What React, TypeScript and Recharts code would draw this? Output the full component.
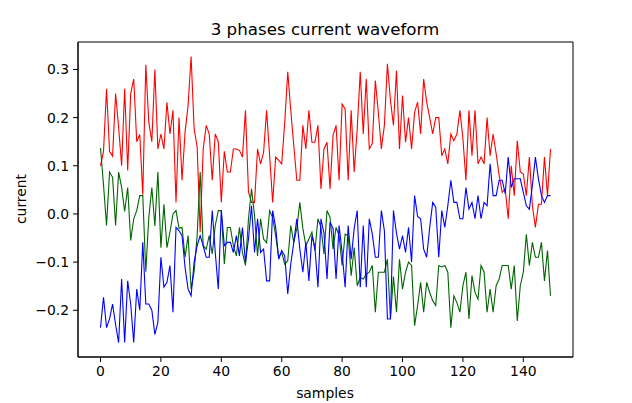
import React from 'react';
import { LineChart, Line, XAxis, YAxis, ReferenceArea } from 'recharts';

const phaseA = [
  0.10, 0.13, 0.26, 0.13, 0.12, 0.25, 0.18, 0.10, 0.26, 0.09,
  0.25, 0.28, 0.15, 0.165, 0.04, 0.31, 0.19, 0.15, 0.30, 0.135,
  0.166, 0.135, 0.232, 0.166, 0.215, 0.024, 0.20, 0.07, 0.17, 0.225,
  0.327, 0.177, 0.139, -0.038, 0.135, 0.184, 0.166, 0.07, 0.166, 0.15,
  0.024, 0.13, 0.087, 0.087, 0.135, 0.135, 0.132, 0.118, 0.215, 0.045,
  0.024, 0.024, 0.135, 0.104, 0.128, 0.215, 0.121, 0.024, 0.118, 0.111,
  0.104, 0.19, 0.295, 0.215, 0.142, 0.07, 0.07, 0.184, 0.135, 0.215,
  0.149, 0.149, 0.184, 0.052, 0.135, 0.149, 0.052, 0.163, 0.184, 0.07,
  0.228, 0.218, 0.07, 0.215, 0.087, 0.177, 0.295, 0.166, 0.28, 0.135,
  0.146, 0.277, 0.21, 0.135, 0.184, 0.312, 0.236, 0.184, 0.298, 0.135,
  0.246, 0.149, 0.20, 0.135, 0.211, 0.232, 0.166, 0.28, 0.232, 0.20,
  0.166, 0.20, 0.20, 0.121, 0.135, 0.104, 0.166, 0.152, 0.166, 0.215,
  0.156, 0.07, 0.215, 0.121, 0.215, 0.104, 0.118, 0.104, 0.20, 0.121,
  0.166, 0.125, 0.08, 0.045, 0.052, -0.01, 0.10, 0.038, 0.152, 0.087,
  0.083, 0.038, 0.118, 0.017, -0.028, 0.02, 0.02, 0.118, 0.038, 0.135,
];

const phaseB = [
  0.137, 0.06, -0.024, 0.087, 0.076, -0.024, 0.087, 0.055, 0.005, 0.055,
  -0.055, -0.01, 0.007, 0.038, 0.038, -0.12, -0.007, 0.055, -0.025, 0.087,
  -0.07, 0.02, -0.07, -0.038, 0.0, 0.007, -0.03, -0.028, -0.09, -0.045,
  -0.156, -0.12, -0.045, 0.087, -0.066, -0.073, -0.045, -0.083, -0.024, 0.007,
  0.007, -0.104, -0.028, -0.028, -0.066, -0.087, -0.028, -0.08, -0.107, -0.01,
  0.052, -0.003, -0.087, -0.01, -0.052, -0.06, 0.007, -0.007, -0.045, -0.09,
  -0.08, -0.104, -0.097, -0.024, -0.059, -0.03, 0.024, -0.03, -0.066, -0.052,
  -0.038, -0.076, -0.01, -0.028, -0.083, 0.007, -0.007, -0.073, -0.028, -0.045,
  -0.107, -0.042, -0.045, -0.128, -0.07, -0.149, -0.132, -0.135, -0.125, -0.121,
  -0.107, -0.204, -0.121, -0.121, -0.121, -0.094, -0.218, -0.13, -0.204, -0.094,
  -0.156, -0.121, -0.10, -0.107, -0.232, -0.19, -0.142, -0.204, -0.142, -0.163,
  -0.18, -0.19, -0.107, -0.11, -0.107, -0.121, -0.236, -0.17, -0.184, -0.204,
  -0.149, -0.121, -0.218, -0.128, -0.163, -0.177, -0.107, -0.121, -0.204, -0.156,
  -0.204, -0.149, -0.135, -0.107, -0.107, -0.107, -0.156, -0.107, -0.222, -0.149,
  -0.121, -0.042, -0.107, -0.059, -0.09, -0.09, -0.059, -0.139, -0.076, -0.17,
];

const phaseC = [
  -0.236, -0.173, -0.236, -0.218, -0.187, -0.23, -0.267, -0.135, -0.267, -0.139,
  -0.187, -0.267, -0.156, -0.20, -0.059, -0.187, -0.187, -0.20, -0.25, -0.225,
  -0.09, -0.152, -0.142, -0.107, -0.204, -0.028, -0.035, -0.045, -0.111, -0.156,
  -0.17, -0.10, -0.066, -0.045, -0.066, -0.09, -0.09, 0.007, -0.08, -0.156,
  0.007, -0.066, -0.059, -0.059, -0.08, -0.045, -0.087, -0.028, -0.10, -0.052,
  0.017, -0.08, -0.01, -0.08, -0.073, -0.139, -0.139, 0.007, -0.028, -0.094,
  -0.076, -0.087, -0.166, -0.104, -0.059, -0.01, -0.073, -0.121, -0.059, -0.139,
  -0.045, -0.07, -0.152, -0.01, -0.04, -0.135, -0.017, -0.03, -0.135, -0.024,
  -0.08, -0.152, -0.024, -0.094, -0.03, 0.007, -0.152, -0.024, -0.152, -0.01,
  -0.042, -0.09, -0.09, 0.007, -0.035, -0.218, -0.218, 0.007, -0.04, -0.073,
  -0.045, -0.08, -0.028, -0.10, 0.038, -0.005, -0.01, -0.073, -0.09, -0.028,
  0.024, 0.014, -0.09, 0.007, -0.028, 0.017, 0.07, 0.024, 0.024, -0.01,
  -0.01, 0.055, 0.01, 0.024, -0.01, 0.038, -0.01, 0.024, 0.017, 0.104,
  0.038, 0.038, 0.07, 0.07, 0.042, 0.118, 0.055, 0.073, 0.073, 0.073,
  0.045, 0.017, 0.01, 0.059, 0.118, 0.073, 0.038, 0.024, 0.038, 0.038,
];

const xTicks = [0, 20, 40, 60, 80, 100, 120, 140];
const yTicks = [-0.2, -0.1, 0.0, 0.1, 0.2, 0.3];

const samples = phaseA.map((_, i) => i);
const data = samples.map((s, i) => ({ s, a: phaseA[i], b: phaseB[i], c: phaseC[i] }));

const X_DOMAIN: [number, number] = [-7.45, 156.45];
const Y_DOMAIN: [number, number] = [-0.297, 0.357];

const FONT = '"DejaVu Sans", sans-serif';

const fmtY = (v: number) => (v < 0 ? '\u2212' : '') + Math.abs(v).toFixed(1);

export default function App() {
  return (
    <div style={{ position: 'absolute', left: 0, top: 0, width: 632, height: 403, background: '#fff' }}>
      <LineChart
        width={632}
        height={403}
        data={data}
        margin={{ top: 42, right: 59, bottom: 0, left: 0 }}
        style={{ fontFamily: FONT }}
      >
        <XAxis
          dataKey="s"
          type="number"
          domain={X_DOMAIN}
          ticks={xTicks}
          height={46}
          tickSize={5}
          tickMargin={4}
          axisLine={{ stroke: '#000' }}
          tickLine={{ stroke: '#000' }}
          tick={{ fill: '#000', fontSize: 13.9, fontFamily: FONT }}
          allowDataOverflow
        />
        <YAxis
          type="number"
          domain={Y_DOMAIN}
          ticks={yTicks}
          width={78}
          tickSize={5}
          tickMargin={4}
          tickFormatter={fmtY}
          axisLine={{ stroke: '#000' }}
          tickLine={{ stroke: '#000' }}
          tick={{ fill: '#000', fontSize: 13.9, fontFamily: FONT }}
          allowDataOverflow
        />
        <Line type="linear" dataKey="a" stroke="#ff0000" strokeWidth={1.1} dot={false} isAnimationActive={false} />
        <Line type="linear" dataKey="b" stroke="#006400" strokeWidth={1.1} dot={false} isAnimationActive={false} />
        <Line type="linear" dataKey="c" stroke="#0000ff" strokeWidth={1.1} dot={false} isAnimationActive={false} />
        <ReferenceArea
          x1={X_DOMAIN[0]}
          x2={X_DOMAIN[1]}
          y1={Y_DOMAIN[0]}
          y2={Y_DOMAIN[1]}
          fill="none"
          fillOpacity={0}
          stroke="#000"
          strokeWidth={1}
          ifOverflow="visible"
        />
      </LineChart>
      <svg
        width={632}
        height={403}
        style={{ position: 'absolute', left: 0, top: 0, pointerEvents: 'none' }}
      >
        <text x={325} y={34.5} textAnchor="middle" fontFamily={FONT} fontSize={16.7} fill="#000">
          3 phases current waveform
        </text>
        <text x={325} y={398} textAnchor="middle" fontFamily={FONT} fontSize={13.9} fill="#000">
          samples
        </text>
        <text
          x={0}
          y={0}
          transform="translate(26 199) rotate(-90)"
          textAnchor="middle"
          fontFamily={FONT}
          fontSize={13.9}
          fill="#000"
        >
          current
        </text>
      </svg>
    </div>
  );
}
